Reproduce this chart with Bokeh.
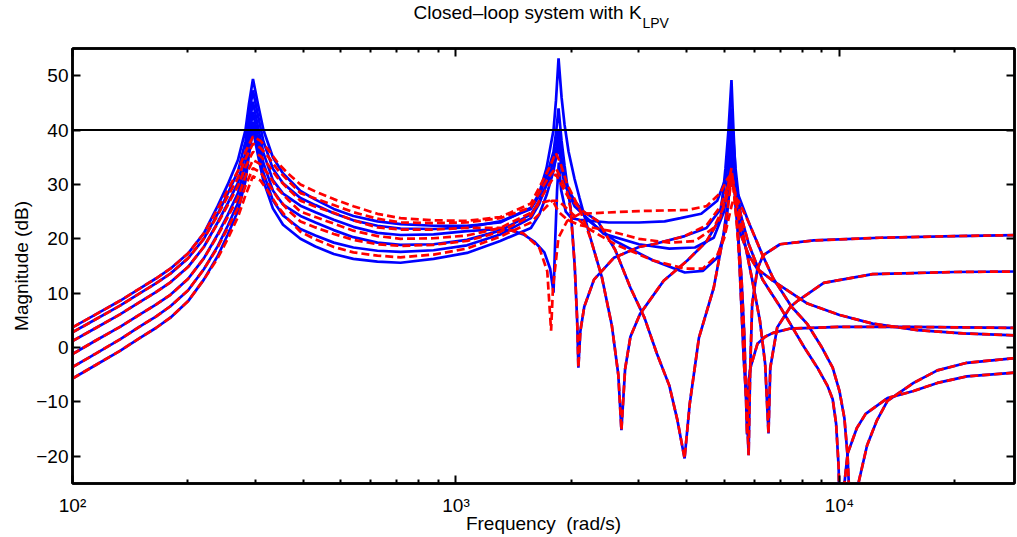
from bokeh.plotting import figure
from bokeh.models import FixedTicker, LogAxis, LinearAxis, Span, Range1d
from bokeh.layouts import column
from bokeh.core.properties import value
from bokeh.embed import file_html
from bokeh.resources import INLINE

# ---------------- data (frequency in rad/s, magnitude in dB) ----------------
B1_f = [100,115,133,150,165,180,200,220,239,254,270,282.5,288.5,295.5,304.5,314.7,333,354,393,430,480,540,624,717,874,1068,1304,1568,
        1650,1722,1796,1823,1851,1885,1919,1966,2038,2100,2240,2400,2550,2650,2700,2760,2850,3020,3480,4010,4500,4900,
        5043,5135,5228,5291,5356,5480,5630,5720,5795,5850,5920,6110,6330,7000,8570,12760,20000,30000]
B1_db = [3.7,6.1,8.6,10.9,12.7,14.5,17.3,21,26,30,34.5,40,44.8,49.4,44.8,40,35,32,28.8,27.2,25.5,24.2,23.2,22.7,22.4,22.4,23,25.7,
         28.5,33,40,45.5,53.2,46,41,36,31,27.5,20.2,13,4,-5,-15.2,-4,2,6.2,12.3,16,19.5,24,
         33,40,49.2,40,32,16,-2.4,-10,-19.8,-4,8,14.5,17,19,19.7,20.2,20.5,20.7]

B2_f = [100,115,133,150,165,180,200,220,239,254,270,282.5,288.5,295.5,304.5,314.7,333,354,393,430,480,540,624,717,874,1068,1304,1568,
        1650,1722,1796,1823,1851,1885,1919,1966,1990,2040,2070,2085,2110,2160,2290,2580,3000,3270,3950,4500,4900,
        5043,5135,5228,5291,5356,5490,5600,5900,6200,6400,6530,6600,6880,7450,7780,9100,12200,20000,30000]
B2_db = [2.8,5.2,7.7,10,11.8,13.6,16.4,20,24.6,28.3,32.4,37.9,42.7,47.3,42.7,37.9,32.9,30.2,27.5,26.2,24.7,23.4,22.4,21.9,21.8,22.1,23.2,25.5,
         28,31.5,36,39.5,44,38,33.5,28,25.7,15,5,-3.7,3,7.5,12.5,16.5,18.5,19,20.5,22,25.5,
         31,37,44,38,33,26,21,13,5,-3,-15.8,-3.7,3.7,7.5,8.6,11.9,13.5,13.9,14.0]

B3_f = [100,115,133,150,165,180,200,220,239,254,270,282.5,288.5,295.5,304.5,314.7,333,354,393,430,480,540,624,717,874,1068,1304,1400,
        1500,1600,1700,1760,1796,1815,1835,1854,1880,1933,2000,2100,2500,3000,3500,3850,4360,4800,
        5043,5135,5228,5291,5356,5450,5520,5800,6100,6700,7500,8250,10000,12200,16000,21000,30000]
B3_db = [1.2,3.6,6.1,8.4,10.2,12,14.8,18.5,23,26.5,30.3,35.8,40.6,45.2,40.6,35.8,30.8,28.3,26.1,24.9,23.5,22.2,21.1,20.7,20.8,21.4,21.8,21.5,
         20.8,19.5,17.5,14.5,10.1,20,29,34,29,25,23.8,23.5,23,23,23.2,23.8,24.6,27,
         31,35,41,35,30,24,20.9,17,14.5,12.3,10,8.1,6,4.4,3.2,2.6,2.2]

B4_f = [100,115,133,150,165,180,200,220,239,254,270,282.5,288.5,295.5,304.5,314.7,333,354,393,430,480,540,624,717,874,1068,1304,1568,
        1650,1722,1796,1823,1851,1885,1919,1966,2038,2430,3000,3600,4200,4700,5000,
        5135,5228,5291,5356,5420,5550,5650,5740,5800,5860,6110,6400,6710,7450,10000,15000,30000]
B4_db = [-1.2,1.3,3.8,6.1,7.9,9.7,12.6,16.4,20.8,24.4,28.4,33.9,38.7,43.3,38.7,33.9,28.9,26.3,24.2,23,21.6,20.3,19.3,18.9,19,19.8,21.5,24.5,
         27,30,33,35,37,33.5,31,28.5,26,20.9,19,18.2,18.4,20.2,25,
         32,38,32,26,22,13,2,-16,-6,-3.7,0.7,2,2.7,3.5,3.8,3.8,3.6]

B5_f = [100,115,133,150,165,180,200,220,239,254,270,282.5,288.5,295.5,304.5,314.7,333,354,393,430,480,540,624,717,874,1068,1304,1568,
        1650,1722,1796,1823,1851,1885,1919,1966,2038,2150,2340,2600,2850,3100,3340,3600,3780,3945,4070,4300,4700,4970,5120,
        5228,5291,5356,5450,5800,6300,7000,7450,8100,8760,9300,9600,9800,9950,10050,10300,10500,11100,11700,13340,15600,
        18000,21500,30000]
B5_db = [-3.6,-1.1,1.5,3.9,5.7,7.6,10.5,14.4,18.6,22.4,26.6,32.1,36.9,41.5,36.9,32.1,27.1,24.3,21.8,20.6,19.3,18.4,17.8,17.6,17.9,18.8,20.8,23.8,
         26.5,30,34.5,37,40,35,31.5,29,27,25,23.3,18,11,5.5,-1.1,-7,-13.4,-20.4,-10.3,1.8,11,20.2,27,
         36,31,28,26,19,12.5,7.5,4.3,0,-3.7,-7,-9.5,-14,-22,-40,-25,-19.5,-14.8,-12.2,-9.3,-8,
         -6.5,-5.3,-4.5]

B6_f = [100,115,133,150,165,180,200,220,239,254,270,282.5,288.5,295.5,304.5,314.7,333,354,393,430,480,540,624,717,874,1068,1304,1568,
        1650,1722,1796,1823,1851,1885,1919,1966,2038,2200,2600,3270,3950,4400,4800,5050,5135,
        5228,5291,5356,5450,5800,6300,6710,7500,8250,9000,9600,10000,10300,10500,10800,11200,11800,12500,13340,15600,18000,21500,30000]
B6_db = [-5.7,-3.2,-0.6,1.8,3.6,5.5,8.5,12.5,16.8,20.8,25.1,30.6,35.4,40,35.4,30.6,25.6,22.6,20,18.6,17.2,16.3,15.8,15.6,16.3,17.4,19.6,22,
         24.5,28,32.5,35,38,33,30,28.5,27,23.5,19.6,16,13.8,14.1,16.5,22,27,
         34,30,28.5,28,23,17,12.8,7.5,4.3,0,-3.7,-8,-13,-20,-40,-25,-18,-13.5,-9.8,-6.5,-4.2,-2.8,-1.8]

R1_f = [100,115,133,150,165,180,200,220,239,254,270,282.5,295.5,309.3,323,342.7,364.7,393,430,480,540,624,717,874,1068,1304,1568,
        1650,1750,1820,1870,1950,2100,2240,2400,2550,2650,2700,2760,2850,3020,3480,4010,4500,4900,5100,5228,
        5300,5380,5480,5630,5720,5795,5850,5920,6110,6330,7000,8570,12760,20000,30000]
R1_db = [3.7,6.1,8.6,10.9,12.7,14.5,17.3,21,25.5,29,32.5,36,38.8,38,36.5,34,32,30,28.7,27.3,26,24.6,23.8,23.4,23.3,24,26.5,
         29.5,33,35.8,34,30,25.5,20.2,13,4,-5,-15.2,-4,2,6.2,12.3,16,19.5,24,29,33,
         29,24,16,-2.4,-10,-19.8,-4,8,14.5,17,19,19.7,20.2,20.5,20.7]

R2_f = [100,115,133,150,165,180,200,220,239,254,270,282.5,295.5,309.3,323,342.7,364.7,393,430,480,540,624,717,874,1068,1304,1568,
        1650,1750,1820,1870,1950,1990,2040,2070,2085,2110,2160,2290,2580,3000,3270,3950,4500,4900,5100,5228,
        5300,5400,5600,5900,6200,6400,6530,6600,6880,7450,7780,9100,12200,20000,30000]
R2_db = [2.8,5.2,7.7,10,11.8,13.6,16.4,20,24.3,27.8,31.2,34.7,37.5,36.7,35.2,32.7,30.7,28.4,27.4,26.2,24.9,23.7,23,22.9,23,23.8,25.8,
         28.5,31.5,33,31.5,28.5,25.5,15,5,-3.7,3,7.5,12.5,16.5,18.5,19,20.5,22.5,26,29.5,32,
         30,26,21,13,5,-3,-15.8,-3.7,3.7,7.5,8.6,11.9,13.5,13.9,14.0]

R3_f = [100,115,133,150,165,180,200,220,239,254,270,282.5,295.5,309.3,323,342.7,364.7,393,430,480,540,624,717,874,1068,1304,1500,
        1650,1730,1770,1790,1850,1950,2100,3000,4000,4500,4900,5100,5228,5300,5400,5520,5800,6100,6700,7500,
        8250,10000,12200,16000,21000,30000]
R3_db = [1.2,3.6,6.1,8.4,10.2,12,14.8,18.5,22.8,26.2,29.7,33.2,36,35.2,33.7,31.2,29.2,27,25.9,24.8,23.4,22.1,21.7,21.7,22,22,21,
         18.3,14,3.1,11,20.2,23.3,24.6,25.1,25.3,26,28.5,31,32,30,26,20.9,17,14.5,12.3,10,
         8.1,6,4.4,3.2,2.6,2.2]

R4_f = [100,115,133,150,165,180,200,220,239,254,270,282.5,295.5,309.3,323,342.7,364.7,393,430,480,540,624,717,874,1068,1304,1568,
        1650,1750,1800,1850,1950,2100,2500,3000,3600,4200,4700,5000,5228,5300,5420,5550,5650,5740,5800,5860,
        6110,6400,6710,7450,10000,15000,30000]
R4_db = [-1.2,1.3,3.8,6.1,7.9,9.7,12.6,16.4,20.6,24,27.6,31.5,34.5,33.7,32,29.2,27.2,25,24,22.8,21.5,20.5,20,20.1,20.6,22,24.8,
         26.5,27,26.6,25,23.5,22.5,21.5,20,19.3,19.6,22,26,30.5,29,22,13,2,-16,-6,-3.7,
         0.7,2,2.7,3.5,3.8,3.8,3.6]

R5_f = [100,115,133,150,165,180,200,220,239,254,270,282.5,295.5,309.3,323,342.7,364.7,393,430,480,540,624,717,874,1068,1304,1568,
        1650,1750,1820,1880,1950,2150,2340,2600,2850,3100,3340,3600,3780,3945,4070,4300,4700,4970,5120,5228,
        5300,5450,5800,6300,7000,7450,8100,8760,9300,9600,9800,9950,10050,10300,10500,11100,11700,13340,15600,18000,
        21500,30000]
R5_db = [-3.6,-1.1,1.5,3.9,5.7,7.6,10.5,14.4,18.4,22,25.7,29.7,33,32.2,30.3,27.5,25.3,23.2,22.1,20.9,19.8,19,18.7,18.9,19.6,21.3,24.2,
         27,30,31.9,30,28,25,23.3,18,11,5.5,-1.1,-7,-13.4,-20.4,-10.3,1.8,11,20.2,26,31,
         29.5,26,19,12.5,7.5,4.3,0,-3.7,-7,-9.5,-14,-22,-40,-25,-19.5,-14.8,-12.2,-9.3,-8,-6.5,
         -5.3,-4.5]

R6_f = [100,115,133,150,165,180,200,220,239,254,270,282.5,295.5,309.3,323,342.7,364.7,393,430,480,540,624,717,874,1068,1304,1568,
        1700,1780,1850,1950,2200,2600,3270,3950,4400,4800,5000,5228,5300,5450,5800,6300,6710,7500,8250,
        9000,9600,10000,10300,10500,10800,11200,11800,12500,13340,15600,18000,21500,30000]
R6_db = [-5.7,-3.2,-0.6,1.8,3.6,5.5,8.5,12.5,16.4,20,24,28,31.5,30.7,28.8,26,23.6,21.3,19.9,18.5,17.5,16.9,16.6,17.1,18.2,20.4,23,
         25.5,27,27,25.5,22,19,16,14.5,14.5,17,20,26,27.5,27,23,17,12.8,7.5,4.3,
         0,-3.7,-8,-13,-20,-40,-25,-18,-13.5,-9.8,-6.5,-4.2,-2.8,-1.8]

x_major = [100, 1000, 10000]
x_major_labels = ["10\u00b2", "10\u00b3", "10\u2074"]
x_minor = [200, 300, 400, 500, 600, 700, 800, 900,
           2000, 3000, 4000, 5000, 6000, 7000, 8000, 9000, 20000]
y_ticks = [-20, -10, 0, 10, 20, 30, 40, 50]
y_tick_labels = ["\u221220", "\u221210", "0", "10", "20", "30", "40", "50"]
limit_db = 40
title_main = "Closed\u2013loop system with K"
title_sub = "LPV"
x_label = "Frequency\u00a0 (rad/s)"
y_label = "Magnitude (dB)"

blue_curves = [(B1_f, B1_db), (B2_f, B2_db), (B3_f, B3_db), (B4_f, B4_db), (B5_f, B5_db), (B6_f, B6_db)]
red_curves = [(R1_f, R1_db), (R2_f, R2_db), (R3_f, R3_db), (R4_f, R4_db), (R5_f, R5_db), (R6_f, R6_db)]

FONT = "Liberation Sans"
W = 1017
TITLE_H = 40
BL, BR = 72, 3
XMIN, XMAX, YMIN, YMAX = 100, 28600, -25, 55

# ---------- title strip (text only; x in page pixels, y in pixels from its top) ----------
tf = figure(width=W, height=TITLE_H, x_range=Range1d(BL, W - BR), y_range=Range1d(TITLE_H, 0),
            output_backend="svg", toolbar_location=None,
            x_axis_location=None, y_axis_location=None,
            min_border_left=BL, min_border_right=BR, min_border_top=0, min_border_bottom=0)
tf.xgrid.visible = False
tf.ygrid.visible = False
tf.outline_line_color = None
tf.background_fill_color = "white"
tf.border_fill_color = "white"
tf.text(x=[413], y=[12], text=[title_main], text_font=value(FONT), text_font_size=value("19px"),
        text_color="black", text_align="left", text_baseline="alphabetic")
tf.text(x=[642], y=[22], text=[title_sub], text_font=value(FONT), text_font_size=value("14px"),
        text_color="black", text_align="left", text_baseline="alphabetic")

# ---------- main plot ----------
p = figure(width=W, height=537 - TITLE_H, x_axis_type="log", x_range=(XMIN, XMAX), y_range=(YMIN, YMAX),
           output_backend="svg", toolbar_location=None,
           min_border_left=BL, min_border_right=BR, min_border_top=8, min_border_bottom=54)
p.grid.visible = False
p.background_fill_color = "white"
p.border_fill_color = "white"
p.outline_line_color = "black"
p.outline_line_width = 2.5

for f, d in blue_curves:
    p.line(f, d, line_color="#0000ff", line_width=2.7)
for f, d in red_curves:
    p.line(f, d, line_color="#ff0000", line_width=2.7, line_dash="8 4")

p.add_layout(Span(location=limit_db, dimension="width", line_color="black", line_width=2))

xt = FixedTicker(ticks=x_major, minor_ticks=x_minor)
yt = FixedTicker(ticks=y_ticks)

def style_axis(ax, labels=True):
    ax.axis_line_color = "black"
    ax.axis_line_width = 2.5
    ax.major_tick_in = 8
    ax.major_tick_out = 0
    ax.minor_tick_in = 4
    ax.minor_tick_out = 0
    ax.major_tick_line_color = "black"
    ax.major_tick_line_width = 2
    ax.minor_tick_line_color = "black"
    ax.minor_tick_line_width = 2
    ax.major_label_text_font = FONT
    if labels:
        ax.major_label_text_font_size = "19px"
        ax.major_label_text_color = "black"
    else:
        ax.major_label_text_font_size = "2px"
        ax.major_label_text_alpha = 0
        ax.major_label_standoff = 0

xa = p.xaxis[0]
xa.ticker = xt
style_axis(xa)
xa.major_label_standoff = 11
xa.major_label_overrides = {v: s for v, s in zip(x_major, x_major_labels)}
xa.axis_label = x_label
xa.axis_label_text_font = FONT
xa.axis_label_text_font_size = "19px"
xa.axis_label_text_font_style = "normal"
xa.axis_label_text_color = "black"
xa.axis_label_standoff = -6

ya = p.yaxis[0]
ya.ticker = yt
style_axis(ya)
ya.minor_tick_line_color = None
ya.major_label_standoff = 4
ya.major_label_overrides = {v: s for v, s in zip(y_ticks, y_tick_labels)}
ya.axis_label = y_label
ya.axis_label_text_font = FONT
ya.axis_label_text_font_size = "19px"
ya.axis_label_text_font_style = "normal"
ya.axis_label_text_color = "black"
ya.axis_label_standoff = 1

top = LogAxis(ticker=xt)
style_axis(top, labels=False)
p.add_layout(top, "above")
right = LinearAxis(ticker=yt)
style_axis(right, labels=False)
right.minor_tick_line_color = None
p.add_layout(right, "right")

page = column(tf, p, spacing=0)
open("out.html", "w").write(file_html(page, INLINE))
